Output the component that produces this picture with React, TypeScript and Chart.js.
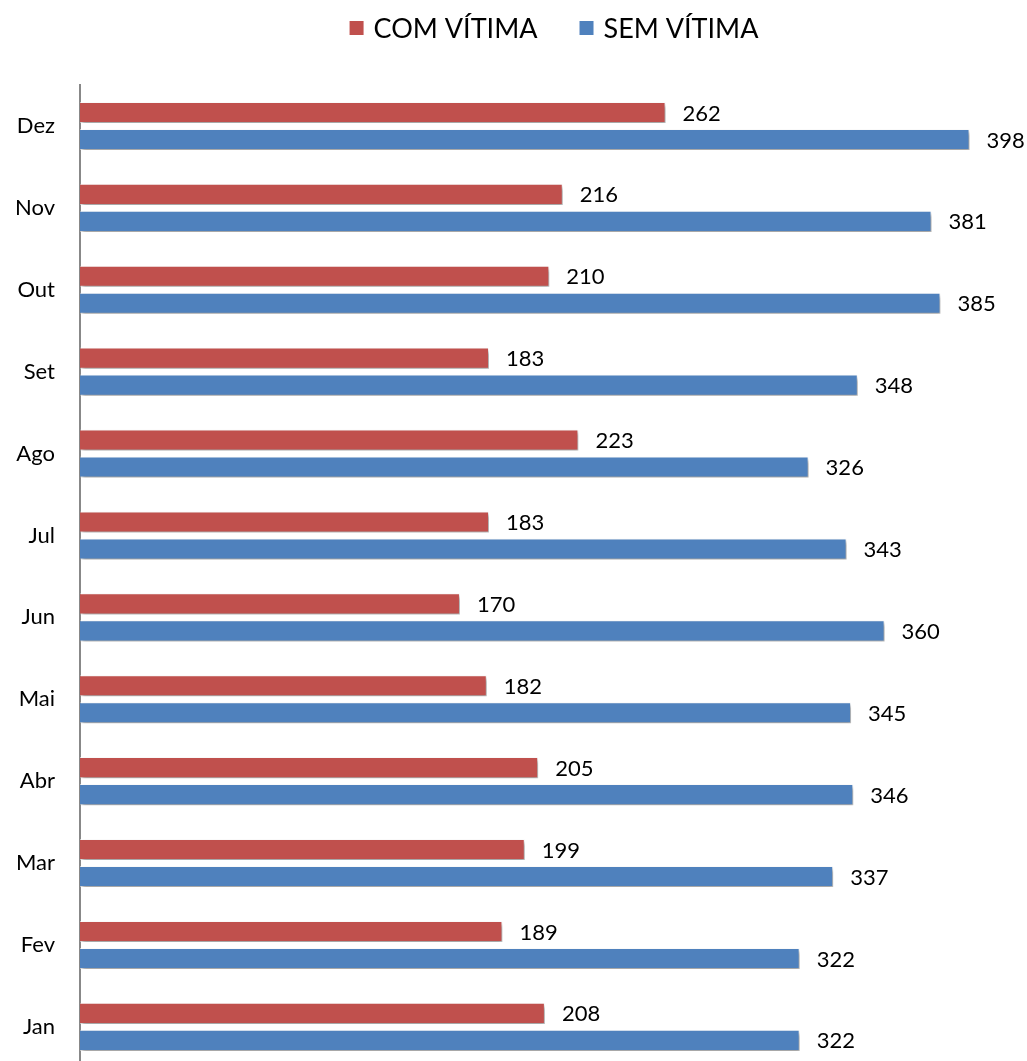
import React, { useEffect, useRef } from "react";
import { Chart, registerables } from "chart.js";

Chart.register(...registerables);

const months = ["Dez", "Nov", "Out", "Set", "Ago", "Jul", "Jun", "Mai", "Abr", "Mar", "Fev", "Jan"];
const comVitima = [262, 216, 210, 183, 223, 183, 170, 182, 205, 199, 189, 208];
const semVitima = [398, 381, 385, 348, 326, 343, 360, 345, 346, 337, 322, 322];
const seriesNames = ["COM VÍTIMA", "SEM VÍTIMA"];
const seriesColors = ["#C0504D", "#4F81BD"];

const FONT = "Lato, 'Open Sans', sans-serif";

const shadowPlugin = {
  id: "barShadow",
  beforeDatasetsDraw(chart: any) {
    const ctx = chart.ctx;
    ctx.save();
    ctx.shadowColor = "rgba(0,0,0,0.38)";
    ctx.shadowOffsetX = 2;
    ctx.shadowOffsetY = 3;
    ctx.shadowBlur = 4;
  },
  afterDatasetsDraw(chart: any) {
    chart.ctx.restore();
  },
};

const labelPlugin = {
  id: "barLabels",
  afterDatasetsDraw(chart: any) {
    const ctx = chart.ctx;
    ctx.save();
    ctx.shadowColor = "transparent";
    ctx.font = `22px ${FONT}`;
    ctx.fillStyle = "#000";
    ctx.textAlign = "left";
    ctx.textBaseline = "middle";
    chart.data.datasets.forEach((ds: any, di: number) => {
      const meta = chart.getDatasetMeta(di);
      meta.data.forEach((el: any, i: number) => {
        ctx.fillText(String(ds.data[i]), el.x + 17, el.y + 1);
      });
    });
    ctx.restore();
  },
};

const legendPlugin = {
  id: "customLegend",
  afterDraw(chart: any) {
    const ctx = chart.ctx;
    ctx.save();
    ctx.font = `27px ${FONT}`;
    ctx.textBaseline = "middle";
    ctx.textAlign = "left";
    const box = 14;
    const gap = 10;
    const itemGap = 42;
    const widths = seriesNames.map((n) => ctx.measureText(n).width);
    const total = widths.reduce((a, w) => a + box + gap + w, 0) + itemGap * (seriesNames.length - 1);
    let x = 554 - total / 2;
    const y = 28;
    seriesNames.forEach((n, i) => {
      ctx.fillStyle = seriesColors[i];
      ctx.fillRect(x, y - box / 2, box, box);
      ctx.fillStyle = "#000";
      ctx.fillText(n, x + box + gap, y + 1);
      x += box + gap + widths[i] + itemGap;
    });
    ctx.restore();
  },
};

export default function App() {
  const ref = useRef<HTMLCanvasElement | null>(null);

  useEffect(() => {
    if (!ref.current) return;
    const chart = new Chart(ref.current, {
      type: "bar",
      data: {
        labels: months,
        datasets: [
          {
            label: seriesNames[0],
            data: comVitima,
            backgroundColor: seriesColors[0],
            borderColor: "rgba(255,255,255,0.55)",
            borderWidth: 1,
            categoryPercentage: 0.66,
            barPercentage: 0.78,
          },
          {
            label: seriesNames[1],
            data: semVitima,
            backgroundColor: seriesColors[1],
            borderColor: "rgba(255,255,255,0.55)",
            borderWidth: 1,
            categoryPercentage: 0.66,
            barPercentage: 0.78,
          },
        ],
      },
      options: {
        indexAxis: "y",
        responsive: false,
        maintainAspectRatio: false,
        animation: false,
        layout: { padding: { top: 85, right: 53, bottom: 0, left: 0 } },
        plugins: {
          legend: { display: false },
          tooltip: { enabled: false },
        },
        scales: {
          x: {
            display: false,
            min: 0,
            max: 400,
          },
          y: {
            grid: { display: false, drawTicks: false },
            border: { display: true, color: "#888888", width: 2 },
            ticks: {
              color: "#000",
              font: { family: FONT, size: 22 },
              padding: 25,
            },
            afterFit(scale: any) {
              scale.width = 80;
            },
          },
        },
      },
      plugins: [shadowPlugin, labelPlugin, legendPlugin],
    });
    return () => chart.destroy();
  }, []);

  return (
    <div
      style={{
        position: "absolute",
        left: 0,
        top: 0,
        width: 1027,
        height: 1061,
        overflow: "hidden",
        background: "#fff",
      }}
    >
      <canvas
        ref={ref}
        width={1027}
        height={1106}
        style={{ display: "block", width: "1027px", height: "1106px" }}
      />
    </div>
  );
}
